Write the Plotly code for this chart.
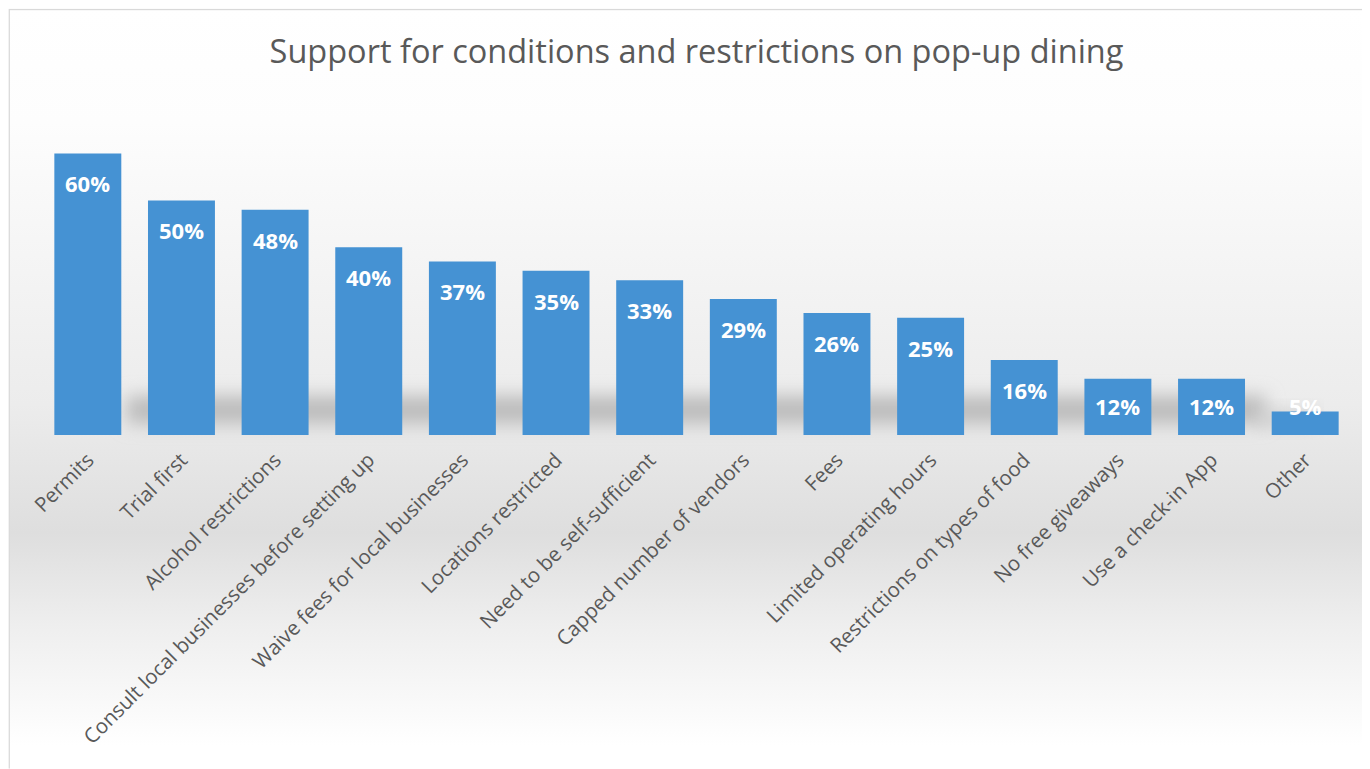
import base64
import plotly.graph_objects as go

# ---- data ----
categories = [
    "Permits", "Trial first", "Alcohol restrictions",
    "Consult local businesses before setting up",
    "Waive fees for local businesses", "Locations restricted",
    "Need to be self-sufficient", "Capped number of vendors", "Fees",
    "Limited operating hours", "Restrictions on types of food",
    "No free giveaways", "Use a check-in App", "Other",
]
values = [60, 50, 48, 40, 37, 35, 33, 29, 26, 25, 16, 12, 12, 5]
value_labels = [f"{v}%" for v in values]
title_text = "Support for conditions and restrictions on pop-up dining"

# ---- layout constants (page body adds an 8px offset) ----
W, H = 1362, 761
ML, MR, MT, MB = 32.6, 17.6, 121.5, 334
Y_MAX = 65
plot_w = W - ML - MR
plot_h = H - MT - MB
px_per_unit = plot_h / Y_MAX

TEXT_COLOR = "#595959"
BAR_COLOR = "#4592d3"
FONT = "Open Sans"

# background (Excel style gradient + chart border + soft bar shadow)
svg = f"""<svg xmlns='http://www.w3.org/2000/svg' width='{W}' height='{H}' viewBox='0 0 {W} {H}' preserveAspectRatio='none'>
<defs>
<linearGradient id='g' gradientUnits='userSpaceOnUse' x1='0' y1='0' x2='0' y2='{H}'>
<stop offset='0' stop-color='#ffffff'/>
<stop offset='0.15' stop-color='#fdfdfd'/>
<stop offset='0.52' stop-color='#ececec'/>
<stop offset='0.69' stop-color='#dedede'/>
<stop offset='0.81' stop-color='#eeeeee'/>
<stop offset='0.97' stop-color='#ffffff'/>
</linearGradient>
<filter id='b' x='-10%' y='-100%' width='120%' height='300%'><feGaussianBlur stdDeviation='9'/></filter>
</defs>
<rect x='0' y='0' width='{W}' height='{H}' fill='#ffffff'/>
<rect x='0.75' y='0.75' width='{W + 20}' height='{H + 20}' fill='url(#g)' stroke='#d9d9d9' stroke-width='1.5'/>
<rect x='118' y='388' width='1140' height='28' fill='#bcbcbc' filter='url(#b)'/>
<rect x='1250' y='404' width='60' height='14' fill='#cccccc' filter='url(#b)'/>
</svg>"""
bg_src = "data:image/svg+xml;base64," + base64.b64encode(svg.encode()).decode()

fig = go.Figure(
    go.Bar(
        x=categories,
        y=values,
        marker=dict(color=BAR_COLOR, line=dict(width=0)),
        hoverinfo="x+y",
    )
)

# data labels: centred ~30px below bar top, or lifted for very short bars
annotations = []
for cat, v, lab in zip(categories, values, value_labels):
    if v * px_per_unit >= 59:
        y, shift = v, -30
    else:
        y, shift = 0, 29
    annotations.append(dict(
        x=cat, y=y, yshift=shift, text=lab, showarrow=False,
        xanchor="center", yanchor="middle",
        font=dict(family=FONT, size=22, color="white", weight="bold"),
    ))

fig.update_layout(
    width=W, height=H, autosize=False,
    margin=dict(l=ML, r=MR, t=MT, b=MB, pad=0),
    paper_bgcolor="white",
    plot_bgcolor="rgba(0,0,0,0)",
    bargap=0.285,
    showlegend=False,
    title=dict(
        text=title_text, x=0.5, xref="paper", xanchor="center",
        y=1 - 44 / H, yref="container", yanchor="middle",
        font=dict(family=FONT, size=32.5, color=TEXT_COLOR),
    ),
    xaxis=dict(
        tickangle=-45, showgrid=False, showline=False, ticks="",
        zeroline=False, automargin=False, range=[-0.5, len(categories) - 0.5],
        tickfont=dict(family=FONT, size=20.5, color=TEXT_COLOR),
        ticklabelstandoff=8,
    ),
    yaxis=dict(range=[0, Y_MAX], visible=False, showgrid=False, zeroline=False),
    annotations=annotations,
    images=[dict(
        source=bg_src, xref="paper", yref="paper",
        x=-ML / plot_w, y=1 + MT / plot_h,
        sizex=W / plot_w, sizey=H / plot_h,
        xanchor="left", yanchor="top", sizing="stretch", layer="below",
    )],
)

fig.write_html("out.html")
